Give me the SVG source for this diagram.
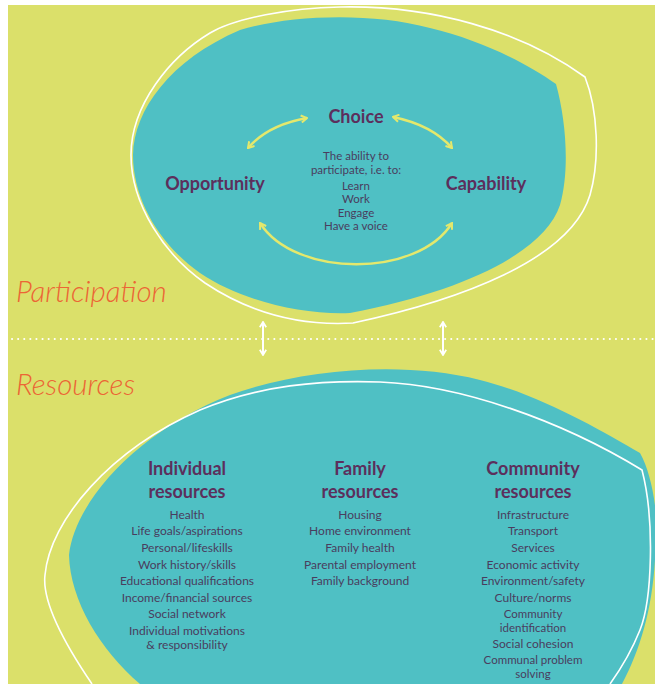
<svg xmlns="http://www.w3.org/2000/svg" width="655" height="684" viewBox="0 0 655 684">
<defs>
<style>
.bg{fill:#dbe06a}
.teal{fill:#4fc0c4}
.wline{fill:none;stroke:#ffffff;stroke-width:1.6}
.yarrow{fill:none;stroke:#e4e86c;stroke-width:2.4}
.warrow{fill:none;stroke:#ffffff;stroke-width:2}
.head{font-family:Lato,"Open Sans",sans-serif;font-weight:bold;fill:#5c2f5c;text-anchor:middle;font-size:18px}
.body{font-family:Lato,"Open Sans",sans-serif;fill:#4a3d5e;text-anchor:middle;font-size:12px}
.small{font-family:Lato,"Open Sans",sans-serif;fill:#4a3d5e;text-anchor:middle;font-size:11.5px}
.sect{font-family:Lato,"Open Sans",sans-serif;font-style:italic;font-weight:300;fill:#ec6535;font-size:29.5px}
</style>
<marker id="yh" viewBox="0 0 10 10" refX="8.5" refY="5" markerWidth="9" markerHeight="9" orient="auto-start-reverse" markerUnits="userSpaceOnUse">
<path d="M2,1 L8.5,5 L2,9" fill="none" stroke="#e4e86c" stroke-width="2.2"/>
</marker>
<marker id="wh" viewBox="0 0 10 10" refX="8.5" refY="5" markerWidth="8" markerHeight="8" orient="auto-start-reverse" markerUnits="userSpaceOnUse">
<path d="M2,1 L8.5,5 L2,9" fill="none" stroke="#ffffff" stroke-width="2.2"/>
</marker>
</defs>
<rect x="0" y="0" width="655" height="684" fill="#ffffff"/>
<rect class="bg" x="8" y="5" width="647" height="679"/>

<g id="participation-blob">
<path class="teal" d="M133,155 C134,110 170,60 240,30 C290,15 370,12 430,28 C480,40 525,62 556,84 C566,120 570,170 560,205 C545,250 470,290 350,313 C300,315 240,300 200,273 C160,245 133,200 133,155 Z"/>
<path class="wline" d="M131,155 C131,105 170,57 210,33 C235,18 290,8 340,7 C430,5 520,30 585,77 C598,110 600,160 590,195 C570,260 460,300 353,323 C300,326 250,313 205,283 C165,255 131,205 131,155 Z"/>
</g>

<g id="resources-blob">
<path class="teal" d="M69,555 C75,500 140,430 230,395 C300,370 400,360 480,380 C540,395 600,430 640,453 C655,480 660,530 655,560 C652,610 640,650 622,684 L140,684 C100,650 70,600 69,555 Z"/>
<path class="wline" d="M92,684 C62,640 42,600 45,575 C50,520 110,450 200,410 C260,385 320,380 380,382 C460,385 560,420 642,470 C655,520 652,600 640,630 C630,655 620,670 610,684"/>
</g>

<g id="labels">
<text class="sect" x="16" y="302">Participation</text>
<text class="sect" x="16" y="395">Resources</text>
</g>

<g id="choice"><text class="head" x="356" y="123">Choice</text></g>
<g id="opportunity"><text class="head" x="215" y="190">Opportunity</text></g>
<g id="capability"><text class="head" x="486" y="190">Capability</text></g>
<g id="ability">
<text class="small" x="356" y="160">The ability to</text>
<text class="small" x="356" y="174">participate, i.e. to:</text>
<text class="small" x="356" y="189.5">Learn</text>
<text class="small" x="356" y="203">Work</text>
<text class="small" x="356" y="216.5">Engage</text>
<text class="small" x="356" y="230">Have a voice</text>
</g>

<g id="connectors">
<path class="yarrow" d="M248,148 Q268,125 307,118" marker-start="url(#yh)" marker-end="url(#yh)"/>
<path class="yarrow" d="M393,117 Q432,125 452,148" marker-start="url(#yh)" marker-end="url(#yh)"/>
<path class="yarrow" d="M260,223 C295,278 418,278 452,223" marker-start="url(#yh)" marker-end="url(#yh)"/>
<path class="warrow" d="M263,322 L263,355" marker-start="url(#wh)" marker-end="url(#wh)"/>
<path class="warrow" d="M443,322 L443,355" marker-start="url(#wh)" marker-end="url(#wh)"/>
<line x1="12" y1="339" x2="655" y2="339" stroke="#ffffff" stroke-width="2" stroke-linecap="round" stroke-dasharray="0.1 6"/>
</g>

<g id="individual">
<text class="head" x="187" y="475">Individual</text>
<text class="head" x="187" y="498">resources</text>
<text class="body" x="187" y="519">Health</text>
<text class="body" x="187" y="535">Life goals/aspirations</text>
<text class="body" x="187" y="552">Personal/lifeskills</text>
<text class="body" x="187" y="569">Work history/skills</text>
<text class="body" x="187" y="585">Educational qualifications</text>
<text class="body" x="187" y="602">Income/financial sources</text>
<text class="body" x="187" y="618">Social network</text>
<text class="body" x="187" y="635">Individual motivations</text>
<text class="body" x="187" y="649">&amp; responsibility</text>
</g>

<g id="family">
<text class="head" x="360" y="475">Family</text>
<text class="head" x="360" y="498">resources</text>
<text class="body" x="360" y="519">Housing</text>
<text class="body" x="360" y="535">Home environment</text>
<text class="body" x="360" y="552">Family health</text>
<text class="body" x="360" y="569">Parental employment</text>
<text class="body" x="360" y="585">Family background</text>
</g>

<g id="community">
<text class="head" x="533" y="475">Community</text>
<text class="head" x="533" y="498">resources</text>
<text class="body" x="533" y="519">Infrastructure</text>
<text class="body" x="533" y="535">Transport</text>
<text class="body" x="533" y="552">Services</text>
<text class="body" x="533" y="569">Economic activity</text>
<text class="body" x="533" y="585">Environment/safety</text>
<text class="body" x="533" y="602">Culture/norms</text>
<text class="small" x="533" y="618">Community</text>
<text class="small" x="533" y="631.5">identification</text>
<text class="body" x="533" y="648">Social cohesion</text>
<text class="small" x="533" y="664">Communal problem</text>
<text class="small" x="533" y="677.5">solving</text>
</g>
</svg>
